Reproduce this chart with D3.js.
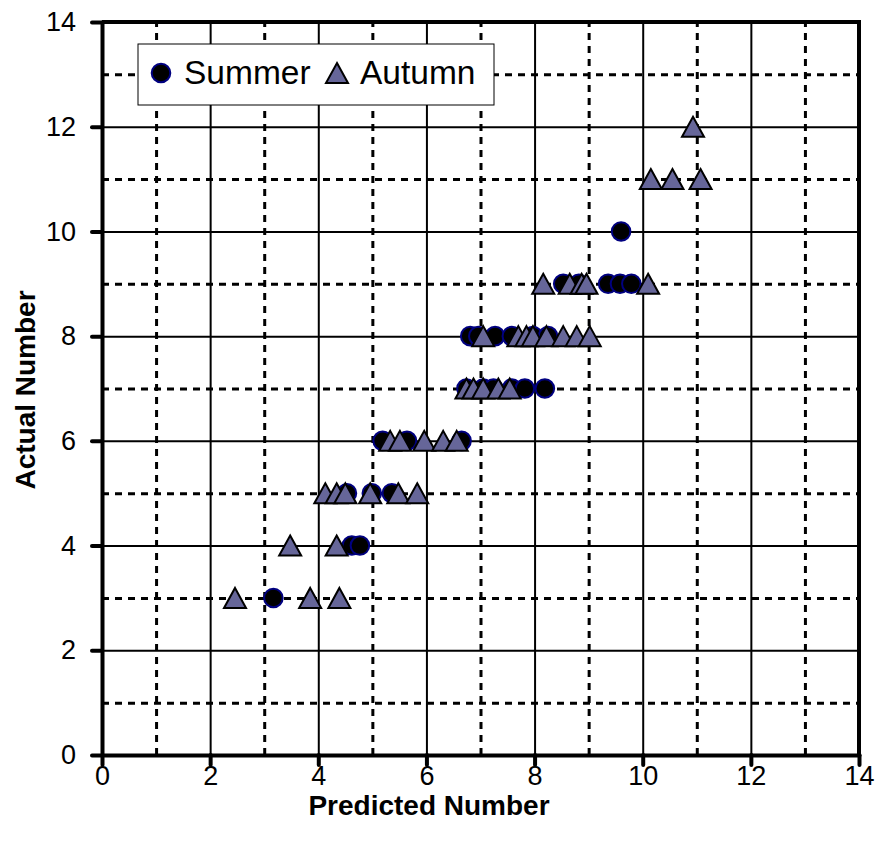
<!DOCTYPE html>
<html>
<head>
<meta charset="utf-8">
<script src="https://cdn.jsdelivr.net/npm/d3@7"></script>
<style>
  body { margin: 0; background: #fff; }
  svg { font-family: "Liberation Sans", Arial, sans-serif; }
  .axis text { font-size: 27px; fill: #000; }
  .axis path, .axis line { stroke: #000; stroke-width: 4; stroke-linecap: round; }
  .grid path { display: none; }
  .grid.major line { stroke: #000; stroke-width: 2; }
  .grid.minor line { stroke: #000; stroke-width: 3; stroke-dasharray: 7,6; }
</style>
</head>
<body>
<script>

// Summer (circles): predicted vs actual
var summerPredicted = [3.17, 4.62, 4.77, 4.53, 4.99, 5.36, 5.19, 5.64, 6.65,
	6.74, 7.05, 7.24, 7.58, 7.82, 8.19, 6.81, 6.96, 7.27, 7.58, 7.97, 8.25,
	8.53, 8.82, 9.36, 9.58, 9.79, 9.60];
var summerActual = [3, 4, 4, 5, 5, 5, 6, 6, 6,
	7, 7, 7, 7, 7, 7, 8, 8, 8, 8, 8, 8,
	9, 9, 9, 9, 9, 10];

// Autumn (triangles)
var autumnPredicted = [2.46, 3.85, 4.39, 3.48, 4.34, 4.13, 4.34, 4.50, 4.96, 5.48, 5.83,
	5.33, 5.51, 5.96, 6.31, 6.56, 6.74, 6.87, 7.05, 7.33, 7.54,
	7.05, 7.70, 7.85, 7.97, 8.22, 8.53, 8.78, 9.02,
	8.16, 8.65, 8.87, 8.96, 10.10, 10.15, 10.55, 11.07, 10.93];
var autumnActual = [3, 3, 3, 4, 4, 5, 5, 5, 5, 5, 5,
	6, 6, 6, 6, 6, 7, 7, 7, 7, 7,
	8, 8, 8, 8, 8, 8, 8, 8,
	9, 9, 9, 9, 9, 11, 11, 11, 12];

var majorTicks = [0, 2, 4, 6, 8, 10, 12, 14];
var minorTicks = [1, 3, 5, 7, 9, 11, 13];

var margin = {top: 22, right: 24, bottom: 96, left: 102};
var width = 883 - margin.left - margin.right,
	height = 851 - margin.top - margin.bottom;

var svg = d3.select("body").append("svg")
	.attr("width", 883)
	.attr("height", 851)
	.append("g")
	.attr("transform", "translate(" + margin.left + "," + margin.top + ")");

var x = d3.scaleLinear().domain([0, 14]).range([0, width]);
var y = d3.scaleLinear().domain([0, 14]).range([height, 0]);

// gridlines
svg.append("g").attr("class", "grid minor")
	.call(d3.axisLeft(y).tickValues(minorTicks).tickSize(-width).tickFormat(""));
svg.append("g").attr("class", "grid minor")
	.attr("transform", "translate(0," + height + ")")
	.call(d3.axisBottom(x).tickValues(minorTicks).tickSize(-height).tickFormat(""));
svg.append("g").attr("class", "grid major")
	.call(d3.axisLeft(y).tickValues(majorTicks.slice(1, -1)).tickSize(-width).tickFormat(""));
svg.append("g").attr("class", "grid major")
	.attr("transform", "translate(0," + height + ")")
	.call(d3.axisBottom(x).tickValues(majorTicks.slice(1, -1)).tickSize(-height).tickFormat(""));

// frame top & right
svg.append("path")
	.attr("d", "M0," + y(14) + "H" + x(14) + "V" + y(0))
	.attr("fill", "none")
	.attr("stroke", "#000")
	.attr("stroke-width", 4);

// axes
svg.append("g").attr("class", "axis")
	.call(d3.axisLeft(y).tickValues(majorTicks).tickSize(10).tickSizeOuter(0).tickPadding(16));
svg.append("g").attr("class", "axis")
	.attr("transform", "translate(0," + height + ")")
	.call(d3.axisBottom(x).tickValues(majorTicks).tickSize(10).tickSizeOuter(0).tickPadding(1));

// legend (drawn over grid)
var legend = svg.append("g").attr("transform", "translate(36,22)");
legend.append("rect")
	.attr("width", 356).attr("height", 61)
	.attr("fill", "#fff").attr("stroke", "#000").attr("stroke-width", 1);

var triangle = "M0,-10L11,10L-11,10Z";

legend.append("circle")
	.attr("cx", 23).attr("cy", 29).attr("r", 9.3)
	.attr("fill", "#000").attr("stroke", "#000080").attr("stroke-width", 2);
legend.append("text").attr("x", 46).attr("y", 40)
	.attr("font-size", "33.5px").text("Summer");
legend.append("path")
	.attr("d", triangle)
	.attr("transform", "translate(199,29)")
	.attr("fill", "#666699").attr("stroke", "#000").attr("stroke-width", 2);
legend.append("text").attr("x", 222).attr("y", 40)
	.attr("font-size", "33.5px").text("Autumn");

// points
var summer = summerPredicted.map(function(d, i) { return {x: d, y: summerActual[i]}; });
var autumn = autumnPredicted.map(function(d, i) { return {x: d, y: autumnActual[i]}; });

svg.selectAll("circle.summer")
	.data(summer)
	.enter()
	.append("circle")
	.attr("class", "summer")
	.attr("cx", function(d) { return x(d.x); })
	.attr("cy", function(d) { return y(d.y); })
	.attr("r", 9.3)
	.attr("fill", "#000")
	.attr("stroke", "#000080")
	.attr("stroke-width", 2);

svg.selectAll("path.autumn")
	.data(autumn)
	.enter()
	.append("path")
	.attr("class", "autumn")
	.attr("d", triangle)
	.attr("transform", function(d) { return "translate(" + x(d.x) + "," + y(d.y) + ")"; })
	.attr("fill", "#666699")
	.attr("stroke", "#000")
	.attr("stroke-width", 2);

// axis titles
svg.append("text")
	.attr("x", 327)
	.attr("y", height + 60)
	.attr("text-anchor", "middle")
	.attr("font-size", "28px")
	.attr("font-weight", "bold")
	.text("Predicted Number");

svg.append("text")
	.attr("transform", "translate(-67," + (390 - margin.top) + ") rotate(-90)")
	.attr("text-anchor", "middle")
	.attr("font-size", "28px")
	.attr("font-weight", "bold")
	.text("Actual Number");

</script>
</body>
</html>
